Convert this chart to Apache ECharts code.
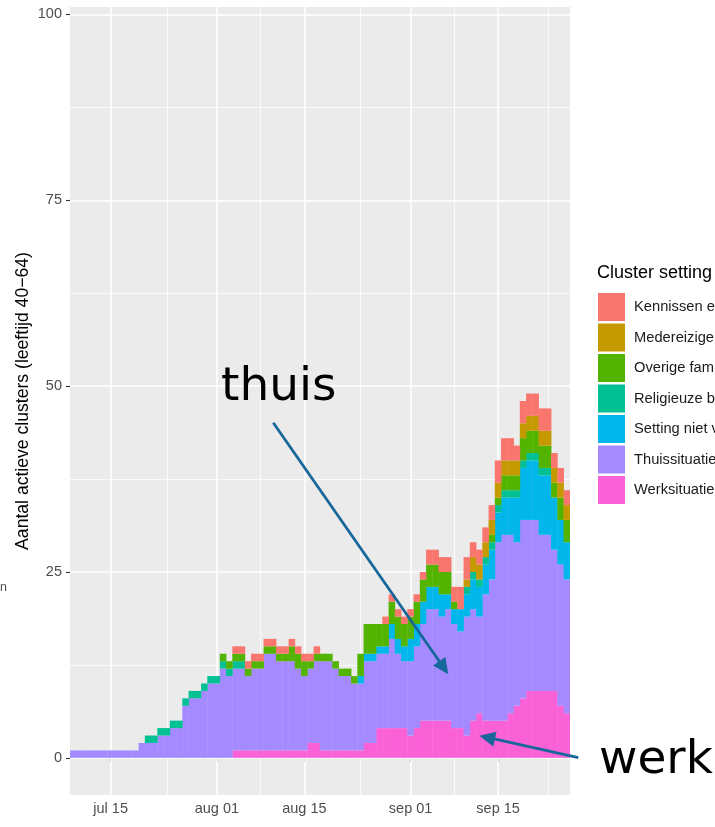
<!DOCTYPE html>
<html>
<head>
<meta charset="utf-8">
<script src="https://cdn.jsdelivr.net/npm/echarts@6/dist/echarts.min.js"></script>
<style>
  html, body { margin: 0; padding: 0; background: #ffffff; }
  #chart { width: 715px; height: 827px; }
</style>
</head>
<body>
<div id="chart"></div>
<script>
// Daily active clusters, age group 40-64, split by cluster setting.
const startDate = '2020-07-09';
const dayCount = 80;

// x-axis breaks (ggplot-style date breaks) and their labels
const tickDates = ['2020-07-15', '2020-08-01', '2020-08-15', '2020-09-01', '2020-09-15'];
const tickLabels = ['jul 15', 'aug 01', 'aug 15', 'sep 01', 'sep 15'];
const nextBreak = '2020-10-01';

// y-axis breaks
const yTicks = [0, 25, 50, 75, 100];
const yMinor = [12.5, 37.5, 62.5, 87.5];

// Legend entries, top to bottom
const settingNames = [
  'Kennissen en vrienden',
  'Medereizigers',
  'Overige familie',
  'Religieuze bijeenkomst',
  'Setting niet vermeld',
  'Thuissituatie',
  'Werksituatie'
];
const settingColors = ['#F8766D', '#C49A00', '#53B400', '#00C094', '#00B6EB', '#A58AFF', '#FB61D7'];

// Counts per day (index 0 = startDate)
const kennissen = [
  0,0,0,0,0,0,0,0,0,0, 0,0,0,0,0,0,0,0,0,0,
  0,0,0,0,0,0,1,1,1,1, 1,1,1,1,1,1,1,1,1,1,
  0,0,0,0,0,0,0,0,0,0, 1,1,1,1,1,1,1,2,2,2,
  2,2,3,3,2,2,2,2,3,3, 3,2,3,3,3,3,3,2,2,2
];
const medereizigers = [
  0,0,0,0,0,0,0,0,0,0, 0,0,0,0,0,0,0,0,0,0,
  0,0,0,0,0,0,0,0,0,0, 0,0,0,0,0,0,0,0,0,0,
  0,0,0,0,0,0,0,0,0,0, 0,0,0,0,0,0,0,0,0,0,
  0,0,0,1,2,2,2,2,2,2, 2,2,2,2,2,2,2,2,2,2
];
const overige = [
  0,0,0,0,0,0,0,0,0,0, 0,0,0,0,0,0,0,0,0,0,
  0,0,0,0,1,1,1,1,1,1, 1,1,1,1,1,2,2,2,1,1,
  1,1,1,1,1,1,3,4,4,3, 3,3,3,3,3,3,3,3,3,3,
  3,1,0,0,0,0,0,1,1,2, 2,2,3,3,3,3,3,2,3,3
];
const religieuze = [
  0,0,0,0,0,0,0,0,0,0, 0,0,1,1,1,1,1,1,1,1,
  1,1,1,1,1,1,1,1,0,0, 0,0,0,0,0,0,0,0,0,0,
  0,0,0,0,0,0,0,0,0,0, 0,0,0,0,0,0,0,0,0,0,
  0,0,0,1,1,1,1,1,1,1, 1,1,1,1,1,1,1,0,0,0
];
const settingOnbekend = [
  0,0,0,0,0,0,0,0,0,0, 0,0,0,0,0,0,0,0,0,0,
  0,0,0,0,0,0,0,0,0,0, 0,0,0,0,0,0,0,0,0,0,
  0,0,0,0,0,0,1,1,1,1, 1,2,2,2,3,3,3,3,3,3,
  2,2,3,3,4,4,4,4,4,5, 5,6,7,8,8,8,8,7,6,5
];
const thuis = [
  1,1,1,1,1,1,1,1,1,1, 1,2,2,2,3,3,4,4,7,8,
  8,9,10,10,12,11,11,11,10,11, 11,13,13,12,12,12,11,10,10,11,
  12,12,11,10,10,9,9,11,11,10, 10,12,10,9,10,11,13,15,15,14,
  15,14,13,16,15,13,17,19,24,25, 24,22,24,23,23,21,21,19,19,18
];
const werk = [
  0,0,0,0,0,0,0,0,0,0, 0,0,0,0,0,0,0,0,0,0,
  0,0,0,0,0,0,1,1,1,1, 1,1,1,1,1,1,1,1,2,2,
  1,1,1,1,1,1,1,2,2,4, 4,4,4,4,3,4,5,5,5,5,
  5,4,4,3,5,6,5,5,5,5, 6,7,8,9,9,9,9,9,7,6
];

// Stacking order, bottom to top
const stackOrder = [
  ['Werksituatie', werk],
  ['Thuissituatie', thuis],
  ['Setting niet vermeld', settingOnbekend],
  ['Religieuze bijeenkomst', religieuze],
  ['Overige familie', overige],
  ['Medereizigers', medereizigers],
  ['Kennissen en vrienden', kennissen]
];

// Day categories
function isoDay(base, offset) {
  const d = new Date(base + 'T00:00:00Z');
  d.setUTCDate(d.getUTCDate() + offset);
  return d.toISOString().slice(0, 10);
}
function dayIndex(iso) {
  return Math.round((Date.parse(iso + 'T00:00:00Z') - Date.parse(startDate + 'T00:00:00Z')) / 86400000);
}
const categories = [];
for (let i = 0; i < dayCount; i++) categories.push(isoDay(startDate, i));

const majorIdx = tickDates.map(dayIndex);
const breakIdx = majorIdx.concat([dayIndex(nextBreak)]);
const minorIdx = [];
for (let i = 0; i < breakIdx.length - 1; i++) minorIdx.push((breakIdx[i] + breakIdx[i + 1]) / 2);
const labelOf = {};
tickDates.forEach((d, i) => { labelOf[d] = tickLabels[i]; });

const FONT = '"Liberation Sans", Arial, sans-serif';
const PANEL = '#EBEBEB';
const colorOf = {};
settingNames.forEach((n, i) => { colorOf[n] = settingColors[i]; });

// Panel grid lines (kept on the bottom layer, under the bars)
const majorLine = { color: '#FFFFFF', width: 1.6, type: 'solid' };
const minorLine = { color: '#FFFFFF', width: 0.8, type: 'solid' };
const gridLines = []
  .concat(minorIdx.map(v => ({ xAxis: v, lineStyle: minorLine })))
  .concat(yMinor.map(v => ({ yAxis: v, lineStyle: minorLine })))
  .concat(majorIdx.map(v => ({ xAxis: v, lineStyle: majorLine })))
  .concat(yTicks.map(v => ({ yAxis: v, lineStyle: majorLine })));

const series = [{
  type: 'line',
  data: [],
  z: 1,
  zlevel: 0,
  silent: true,
  markLine: {
    silent: true,
    z: 1,
    zlevel: 0,
    animation: false,
    symbol: ['none', 'none'],
    label: { show: false },
    emphasis: { disabled: true },
    data: gridLines
  }
}].concat(stackOrder.map(([name, values]) => ({
  type: 'bar',
  name: name,
  stack: 'clusters',
  // zero counts are left out so they draw no sliver
  data: values.map(v => (v === 0 ? '-' : v)),
  // bars a hair wider than a day so neighbouring days close up without seams
  barWidth: '106%',
  barCategoryGap: '0%',
  zlevel: 1,
  z: 2,
  itemStyle: { color: colorOf[name], borderWidth: 0 },
  emphasis: { disabled: true }
})));

// Arrow overlays for the annotations
const ARROW = '#17679A';
function arrow(x1, y1, x2, y2) {
  const len = Math.hypot(x2 - x1, y2 - y1);
  const ux = (x2 - x1) / len, uy = (y2 - y1) / len;
  const head = 16, half = 7.5;
  const bx = x2 - ux * head, by = y2 - uy * head;
  return [
    { type: 'line', zlevel: 2, z: 100, shape: { x1: x1, y1: y1, x2: bx + ux * 2, y2: by + uy * 2 },
      style: { stroke: ARROW, lineWidth: 2.8 } },
    { type: 'polygon', zlevel: 2, z: 100, shape: { points: [[x2, y2], [bx - uy * half, by + ux * half], [bx + uy * half, by - ux * half]] },
      style: { fill: ARROW } }
  ];
}

const chart = echarts.init(document.getElementById('chart'), null, { renderer: 'canvas' });
chart.setOption({
  animation: false,
  backgroundColor: '#FFFFFF',
  textStyle: { fontFamily: FONT },
  title: {
    text: 'Cluster setting',
    left: 597, top: 264, padding: 0,
    textStyle: { fontSize: 18, fontWeight: 'normal', color: '#000000', fontFamily: FONT }
  },
  legend: {
    data: settingNames,
    orient: 'vertical',
    left: 598, top: 293, padding: 0,
    itemWidth: 27, itemHeight: 28, itemGap: 2.5,
    icon: 'rect',
    selectedMode: false,
    itemStyle: { borderWidth: 0 },
    textStyle: { fontSize: 14.7, color: '#1A1A1A', fontFamily: FONT, padding: [0, 0, 0, 4] }
  },
  grid: {
    left: 70, right: 145, top: 7, bottom: 32,
    show: true, backgroundColor: PANEL, borderWidth: 0
  },
  xAxis: {
    type: 'category',
    data: categories,
    boundaryGap: true,
    axisLine: { show: false },
    axisTick: {
      show: true, alignWithLabel: true, length: 4,
      interval: (i) => majorIdx.indexOf(i) >= 0,
      lineStyle: { color: '#333333', width: 1.1 }
    },
    axisLabel: {
      interval: (i) => majorIdx.indexOf(i) >= 0,
      formatter: (v) => labelOf[v] || '',
      color: '#4D4D4D', fontSize: 14.5, margin: 6, fontFamily: FONT
    },
    splitLine: { show: false }
  },
  yAxis: {
    type: 'value',
    min: -5, max: 101,
    name: 'Aantal actieve clusters (leeftijd 40\u221264)',
    nameLocation: 'middle', nameRotate: 90, nameGap: 38, nameMoveOverlap: false,
    nameTextStyle: { fontSize: 17.6, color: '#000000', fontFamily: FONT },
    axisLine: { show: false },
    axisTick: { show: true, length: 4, customValues: yTicks, lineStyle: { color: '#333333', width: 1.1 } },
    axisLabel: { customValues: yTicks, color: '#4D4D4D', fontSize: 14.5, margin: 8, fontFamily: FONT },
    splitLine: { show: false }
  },
  series: series,
  graphic: [
    { type: 'text', z: 100, left: 0, top: 581, style: { text: 'n', fill: '#4D4D4D', font: '12.5px ' + FONT } },
    { type: 'text', zlevel: 2, z: 100, x: 221, y: 388, style: { text: 'thuis', fill: '#000000', font: '47px "DejaVu Sans", Verdana, sans-serif', verticalAlign: 'middle' } },
    { type: 'text', zlevel: 2, z: 100, x: 599, y: 761, style: { text: 'werk', fill: '#000000', font: '47px "DejaVu Sans", Verdana, sans-serif', verticalAlign: 'middle' } }
  ].concat(arrow(273.3, 422.7, 448.3, 674.3)).concat(arrow(578.3, 757.7, 479.3, 735.7))
});
</script>
</body>
</html>
